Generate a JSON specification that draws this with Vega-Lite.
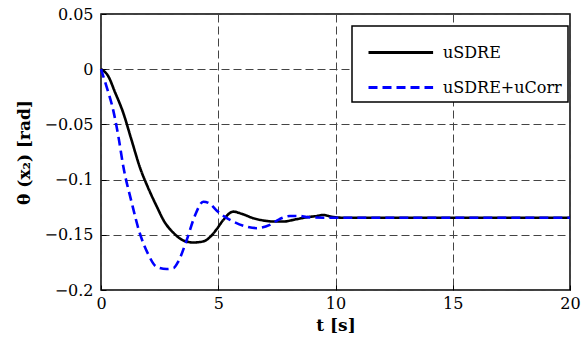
{
  "$schema": "https://vega.github.io/schema/vega-lite/v6.json",
  "width": 469,
  "height": 276,
  "autosize": "none",
  "padding": {"left": 101, "top": 14, "right": 12, "bottom": 61},
  "background": "white",
  "config": {
    "view": {"stroke": "black", "strokeWidth": 1.5},
    "font": "DejaVu Serif",
    "legend": {"strokeWidth": 1.5}
  },
  "data": {
    "values": [
      {"t": 0, "y": 0, "s": "uSDRE"},
      {"t": 0.3, "y": -0.006, "s": "uSDRE"},
      {"t": 0.6, "y": -0.021, "s": "uSDRE"},
      {"t": 0.94, "y": -0.039, "s": "uSDRE"},
      {"t": 1.3, "y": -0.064, "s": "uSDRE"},
      {"t": 1.66, "y": -0.089, "s": "uSDRE"},
      {"t": 2.0, "y": -0.107, "s": "uSDRE"},
      {"t": 2.37, "y": -0.124, "s": "uSDRE"},
      {"t": 2.7, "y": -0.138, "s": "uSDRE"},
      {"t": 3.08, "y": -0.148, "s": "uSDRE"},
      {"t": 3.5, "y": -0.155, "s": "uSDRE"},
      {"t": 3.94, "y": -0.157, "s": "uSDRE"},
      {"t": 4.36, "y": -0.156, "s": "uSDRE"},
      {"t": 4.7, "y": -0.151, "s": "uSDRE"},
      {"t": 4.93, "y": -0.145, "s": "uSDRE"},
      {"t": 5.2, "y": -0.137, "s": "uSDRE"},
      {"t": 5.64, "y": -0.129, "s": "uSDRE"},
      {"t": 6.0, "y": -0.131, "s": "uSDRE"},
      {"t": 6.5, "y": -0.135, "s": "uSDRE"},
      {"t": 6.92, "y": -0.137, "s": "uSDRE"},
      {"t": 7.4, "y": -0.138, "s": "uSDRE"},
      {"t": 7.78, "y": -0.138, "s": "uSDRE"},
      {"t": 8.3, "y": -0.136, "s": "uSDRE"},
      {"t": 8.8, "y": -0.134, "s": "uSDRE"},
      {"t": 9.2, "y": -0.133, "s": "uSDRE"},
      {"t": 9.48, "y": -0.132, "s": "uSDRE"},
      {"t": 9.8, "y": -0.1335, "s": "uSDRE"},
      {"t": 10.3, "y": -0.1345, "s": "uSDRE"},
      {"t": 11, "y": -0.1345, "s": "uSDRE"},
      {"t": 20, "y": -0.1345, "s": "uSDRE"},
      {"t": 0, "y": 0, "s": "uSDRE+uCorr"},
      {"t": 0.24, "y": -0.016, "s": "uSDRE+uCorr"},
      {"t": 0.53, "y": -0.038, "s": "uSDRE+uCorr"},
      {"t": 0.75, "y": -0.062, "s": "uSDRE+uCorr"},
      {"t": 0.95, "y": -0.088, "s": "uSDRE+uCorr"},
      {"t": 1.3, "y": -0.12, "s": "uSDRE+uCorr"},
      {"t": 1.66, "y": -0.149, "s": "uSDRE+uCorr"},
      {"t": 2.0, "y": -0.167, "s": "uSDRE+uCorr"},
      {"t": 2.37, "y": -0.179, "s": "uSDRE+uCorr"},
      {"t": 2.8, "y": -0.181, "s": "uSDRE+uCorr"},
      {"t": 3.1, "y": -0.18, "s": "uSDRE+uCorr"},
      {"t": 3.3, "y": -0.174, "s": "uSDRE+uCorr"},
      {"t": 3.65, "y": -0.155, "s": "uSDRE+uCorr"},
      {"t": 4.0, "y": -0.133, "s": "uSDRE+uCorr"},
      {"t": 4.36, "y": -0.12, "s": "uSDRE+uCorr"},
      {"t": 4.65, "y": -0.122, "s": "uSDRE+uCorr"},
      {"t": 4.93, "y": -0.128, "s": "uSDRE+uCorr"},
      {"t": 5.3, "y": -0.134, "s": "uSDRE+uCorr"},
      {"t": 5.64, "y": -0.138, "s": "uSDRE+uCorr"},
      {"t": 6.1, "y": -0.142, "s": "uSDRE+uCorr"},
      {"t": 6.64, "y": -0.144, "s": "uSDRE+uCorr"},
      {"t": 7.2, "y": -0.141, "s": "uSDRE+uCorr"},
      {"t": 7.6, "y": -0.136, "s": "uSDRE+uCorr"},
      {"t": 8.06, "y": -0.133, "s": "uSDRE+uCorr"},
      {"t": 8.5, "y": -0.133, "s": "uSDRE+uCorr"},
      {"t": 8.77, "y": -0.134, "s": "uSDRE+uCorr"},
      {"t": 9.5, "y": -0.1345, "s": "uSDRE+uCorr"},
      {"t": 20, "y": -0.1345, "s": "uSDRE+uCorr"}
    ]
  },
  "mark": {"type": "line", "interpolate": "monotone", "strokeWidth": 2.6},
  "encoding": {
    "x": {
      "field": "t", "type": "quantitative",
      "scale": {"domain": [0, 20], "nice": false, "zero": false},
      "axis": {
        "values": [0, 5, 10, 15, 20],
        "title": "t [s]",
        "titleFont": "DejaVu Serif", "titleFontWeight": "bold", "titleFontSize": 17, "titleColor": "black",
        "titlePadding": 6,
        "labelFont": "DejaVu Serif", "labelFontSize": 16, "labelColor": "black", "labelPadding": 10,
        "labelFlush": false,
        "ticks": true, "tickSize": -5, "tickColor": "black", "tickWidth": 1,
        "domain": false,
        "grid": true, "gridColor": "#444", "gridDash": [8, 4], "gridWidth": 1, "gridOpacity": 1
      }
    },
    "y": {
      "field": "y", "type": "quantitative",
      "scale": {"domain": [-0.2, 0.05], "nice": false, "zero": false},
      "axis": {
        "values": [-0.2, -0.15, -0.1, -0.05, 0, 0.05],
        "labelExpr": "datum.value == 0 ? '0' : format(datum.value, '.2~f')",
        "title": "θ (x₂) [rad]",
        "titleFont": "DejaVu Serif", "titleFontWeight": "bold", "titleFontSize": 17, "titleColor": "black",
        "titlePadding": 10,
        "labelFont": "DejaVu Serif", "labelFontSize": 16, "labelColor": "black", "labelPadding": 13,
        "labelFlush": false,
        "ticks": true, "tickSize": -5, "tickColor": "black", "tickWidth": 1,
        "domain": false,
        "grid": true, "gridColor": "#444", "gridDash": [8, 4], "gridWidth": 1, "gridOpacity": 1
      }
    },
    "color": {
      "field": "s", "type": "nominal",
      "scale": {"domain": ["uSDRE", "uSDRE+uCorr"], "range": ["black", "#0000ff"]},
      "legend": {
        "title": null,
        "orient": "none", "legendX": 251, "legendY": 12,
        "direction": "vertical",
        "fillColor": "white", "strokeColor": "black",
        "padding": 6, "rowPadding": 6,
        "symbolType": "M-1,0H2.4", "symbolSize": 1444, "symbolStrokeWidth": 3, "symbolOffset": 9,
        "labelFont": "DejaVu Serif", "labelFontSize": 16, "labelColor": "black", "labelOffset": 35,
        "labelLimit": 300
      }
    },
    "strokeDash": {
      "field": "s", "type": "nominal",
      "scale": {"domain": ["uSDRE", "uSDRE+uCorr"], "range": [[1, 0], [9, 5]]},
      "legend": null
    }
  }
}
